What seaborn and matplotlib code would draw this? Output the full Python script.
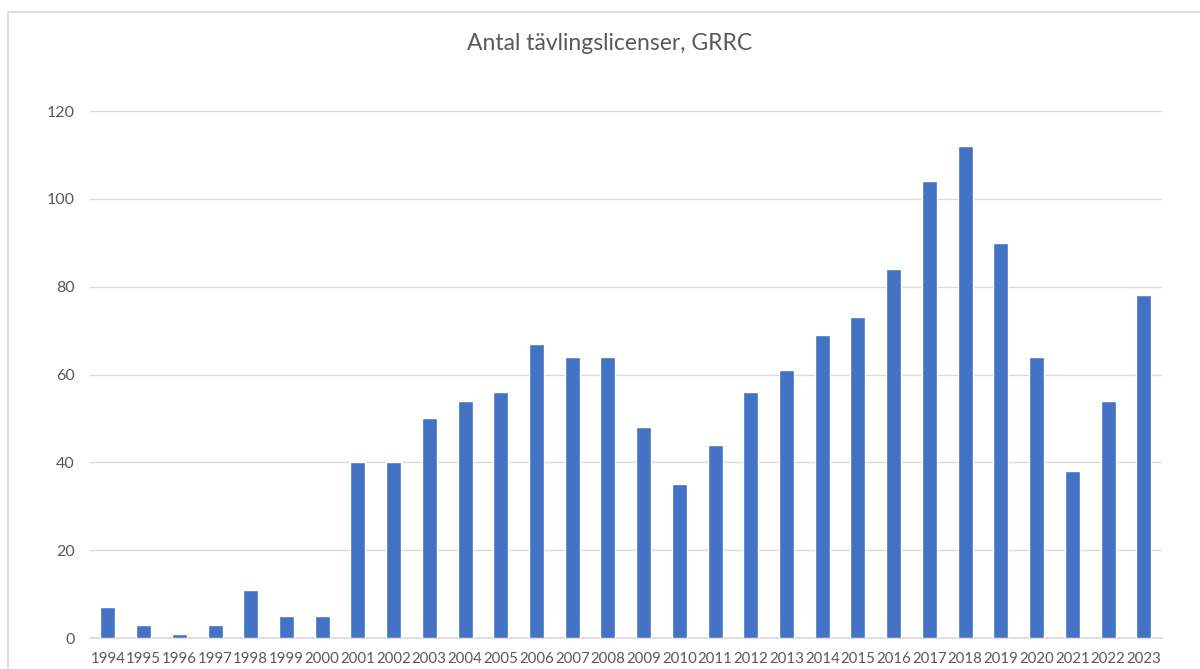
"""
Antal tävlingslicenser per år, GRRC - stapeldiagram.
"""
import pandas as pd
import matplotlib.pyplot as plt
import seaborn as sns
from matplotlib.patches import Rectangle

years = [str(y) for y in range(1994, 2024)]
licenses = [7, 3, 1, 3, 11, 5, 5, 40, 40, 50, 54, 56, 67, 64, 64,
            48, 35, 44, 56, 61, 69, 73, 84, 104, 112, 90, 64, 38, 54, 78]
y_ticks = [0, 20, 40, 60, 80, 100, 120]


def main():
    df = pd.DataFrame({"year": years, "licenses": licenses})

    sns.set_style("white")
    plt.rcParams['font.family'] = ['Lato', 'DejaVu Sans']

    fig = plt.figure(figsize=(12, 6.69), dpi=100)
    ax = fig.add_axes([0.075, 0.0463, 0.893, 0.7877])

    # light frame round the chart, like the Excel chart area
    fig.patches.append(Rectangle((8 / 1200, -0.1), 1.2, 1 - 12 / 669 + 0.1,
                                 transform=fig.transFigure, fill=False,
                                 edgecolor="#D9D9D9", linewidth=1.2))

    sns.barplot(data=df, x="year", y="licenses", color="#4472C4",
                width=0.42, saturation=1, ax=ax, zorder=3)

    ax.set_ylim(0, 120)
    ax.set_xlim(-0.5, len(years) - 0.5)
    ax.set_yticks(y_ticks)
    ax.yaxis.grid(True, color="#D9D9D9", linewidth=1)
    ax.set_axisbelow(True)
    for side in ["top", "right", "left"]:
        ax.spines[side].set_visible(False)
    ax.spines["bottom"].set_color("#D9D9D9")
    ax.spines["bottom"].set_linewidth(1.2)
    ax.tick_params(axis="both", length=0, colors="#595959")
    ax.tick_params(axis="y", pad=11, labelsize=11.5)
    ax.tick_params(axis="x", pad=10, labelsize=10.8)
    ax.set_xlabel("")
    ax.set_ylabel("")

    fig.text(0.508, 0.935, "Antal tävlingslicenser, GRRC", ha="center",
             va="center", fontsize=16.5, color="#595959")

    fig.savefig("out.png", dpi=100)


if __name__ == '__main__':
    main()
